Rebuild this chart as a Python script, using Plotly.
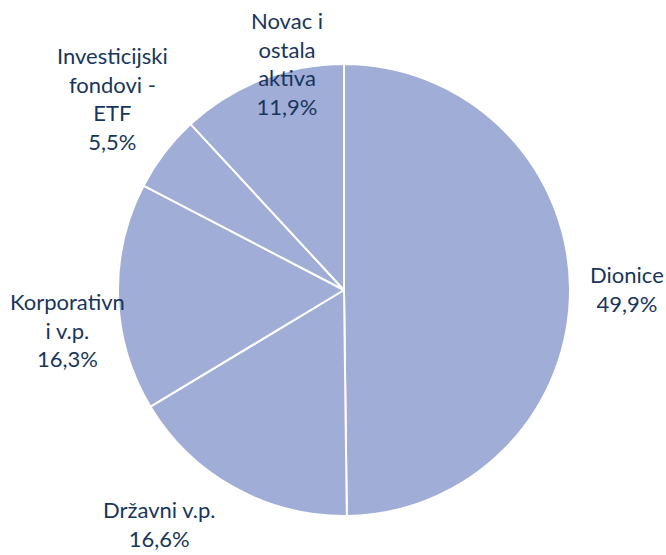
import math
import plotly.graph_objects as go

categories = ["Dionice", "Državni v.p.", "Korporativn<br>i v.p.", "Investicijski<br>fondovi -<br>ETF", "Novac i<br>ostala<br>aktiva"]
values = [49.9, 16.6, 16.3, 5.5, 11.9]
pct_text = ["49,9%", "16,6%", "16,3%", "5,5%", "11,9%"]

W, H = 666, 555
# pie geometry (pixels): centre and radius
cx, cy, r = 344, 290, 226

# label styling: anchor and pixel nudges from the slice's outer edge (mid-angle)
label_xanchor = ["left", "center", "center", "center", "center"]
label_shift = [(18, 0), (-75, -37), (-51, -33), (-52, 54), (25, 16)]

fig = go.Figure(go.Pie(
    values=values,
    textinfo="none",
    sort=False,
    direction="clockwise",
    rotation=0,
    automargin=False,
    domain=dict(x=[(cx - r) / W, (cx + r) / W], y=[(H - cy - r) / H, (H - cy + r) / H]),
    marker=dict(colors=["#A0ADD6"] * len(values), line=dict(color="white", width=2)),
    showlegend=False,
    hoverinfo="skip",
))

total = sum(values)
cum = 0.0
for i, v in enumerate(values):
    mid = (cum + v / 2) / total * 2 * math.pi
    cum += v
    ex = cx + r * math.sin(mid)
    ey = cy - r * math.cos(mid)
    dx, dy = label_shift[i]
    fig.add_annotation(
        x=ex / W, y=1 - ey / H, xref="paper", yref="paper",
        text=f"{categories[i]}<br>{pct_text[i]}",
        showarrow=False,
        xanchor=label_xanchor[i], yanchor="middle",
        xshift=dx, yshift=dy,
        align="center",
        font=dict(family="Lato", size=22, color="#17365D"),
    )

fig.update_layout(
    width=W, height=H,
    margin=dict(l=0, r=0, t=0, b=0, autoexpand=False),
    paper_bgcolor="white",
)
fig.write_html(
    "out.html",
    config={"displayModeBar": False, "staticPlot": True},
    post_script="document.body.style.margin='0';document.body.style.overflow='hidden';",
)
